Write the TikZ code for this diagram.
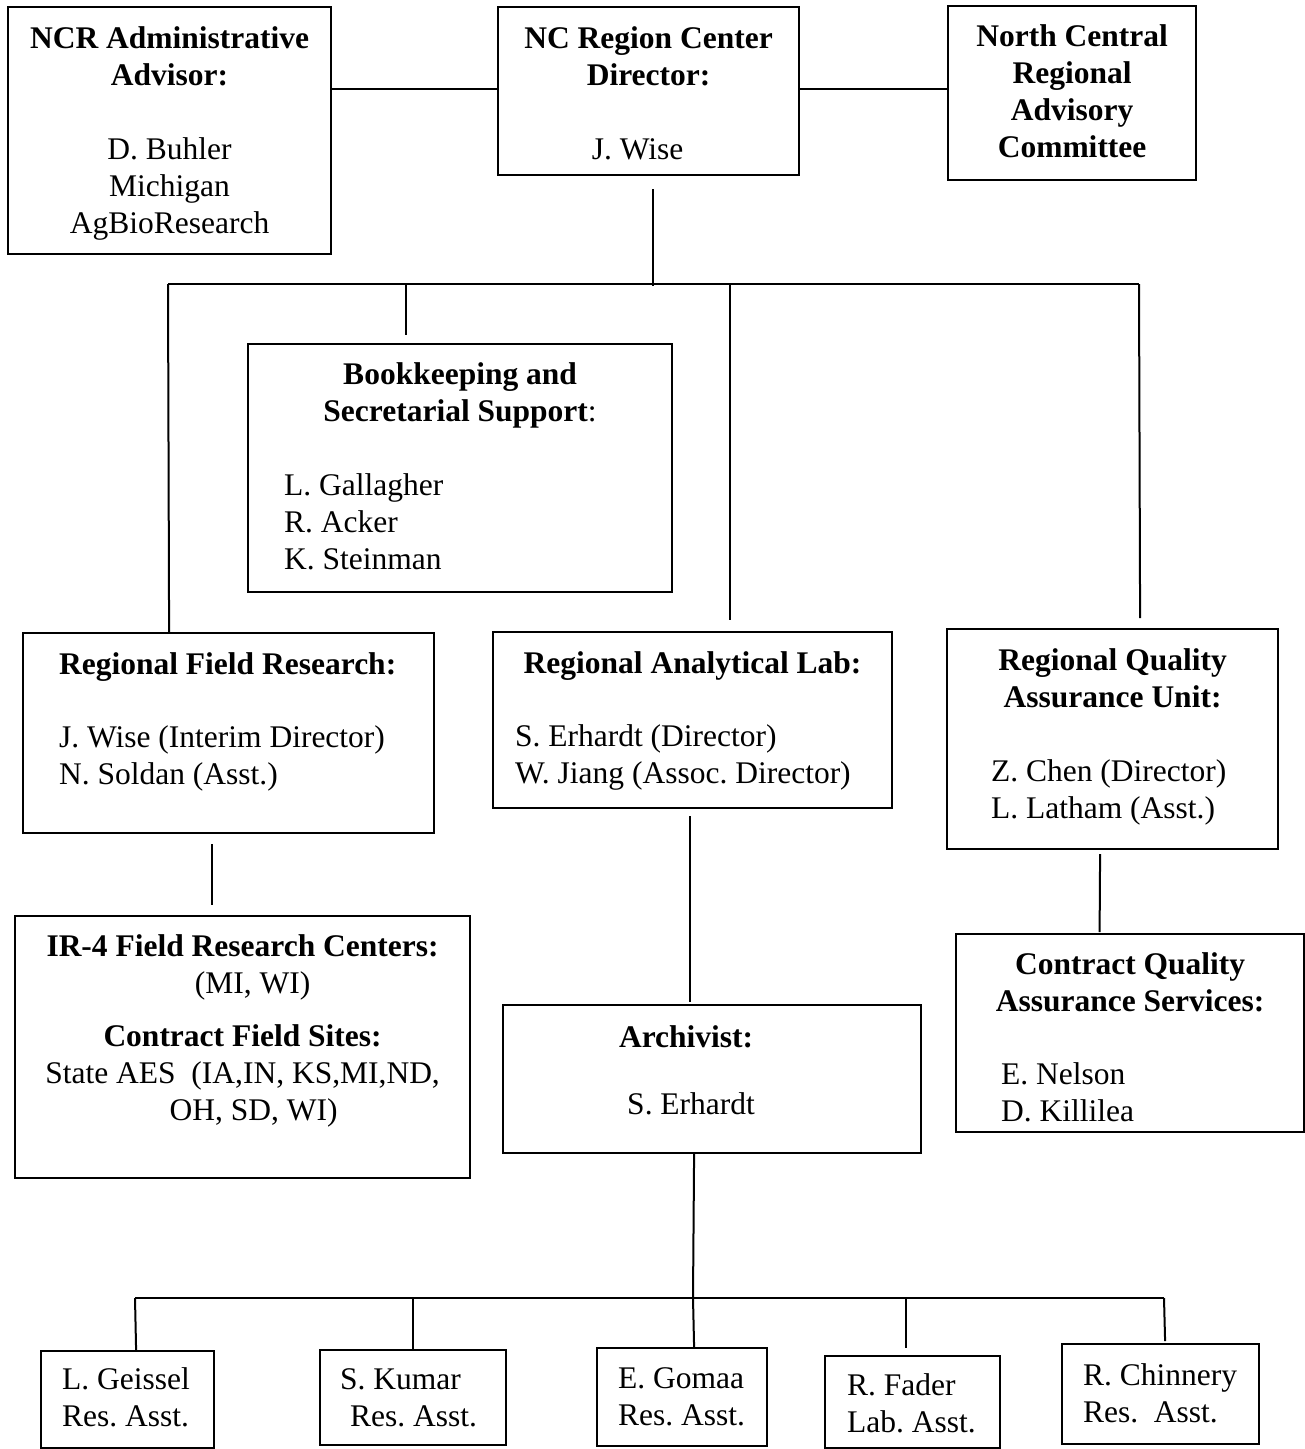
\documentclass[tikz,border=0pt]{standalone}
\usepackage{fontspec}
\setmainfont{Liberation Serif}
\usetikzlibrary{calc}
\frenchspacing
\newcommand\bxc[4]{\parbox[c][#2][t]{#1}{\fontsize{31.5}{37}\selectfont\frenchspacing\vspace*{#3}\centering\strut#4\par}}
\newcommand\bxl[4]{\parbox[c][#2][t]{#1}{\fontsize{31.5}{37}\selectfont\frenchspacing\vspace*{#3}\raggedright\strut#4\par}}
\newcommand\ctrline[1]{\makebox[\linewidth][c]{#1}}
\tikzset{
  box/.style={draw, line width=2.2pt, inner sep=0pt, anchor=north west},
  conn/.style={line width=2pt}
}
\begin{document}
\begin{tikzpicture}[x=1pt,y=-1pt]
\useasboundingbox (0,0) rectangle (1305,1449);
% top row
\node[box] (a) at (7,6) {\bxc{323pt}{247pt}{15.1pt}{\textbf{NCR Administrative}\\ \textbf{Advisor:}\\[37pt] D. Buhler\\ Michigan\\ AgBioResearch}};
\node[box] (b) at (497,6) {\bxc{301pt}{168pt}{15.1pt}{\textbf{NC Region Center}\\ \textbf{Director:}\\[37pt] \hspace*{-22pt}J. Wise}};
\node[box] (c) at (947,5) {\bxc{248pt}{174pt}{14.1pt}{\textbf{North Central}\\ \textbf{Regional}\\ \textbf{Advisory}\\ \textbf{Committee}}};
% second level
\node[box] (d) at (247,343) {\bxl{424pt}{248pt}{14.1pt}{\ctrline{\textbf{Bookkeeping and}}\\ \ctrline{\textbf{Secretarial Support}:}\\[37pt] \hspace*{36pt}L. Gallagher\\ \hspace*{36pt}R. Acker\\ \hspace*{36pt}K. Steinman}};
\node[box] (e) at (22,632) {\bxl{411pt}{200pt}{15.1pt}{\hspace*{36pt}\textbf{Regional Field Research:}\\[36pt] \hspace*{36pt}J. Wise (Interim Director)\\ \hspace*{36pt}N. Soldan (Asst.)}};
\node[box] (f) at (492,631) {\bxl{399pt}{176pt}{15.1pt}{\ctrline{\textbf{Regional Analytical Lab:}}\\[36pt] \hspace*{22pt}S. Erhardt (Director)\\ \hspace*{22pt}W. Jiang (Assoc. Director)}};
\node[box] (g) at (946,628) {\bxl{331pt}{220pt}{15.1pt}{\ctrline{\textbf{Regional Quality}}\\ \ctrline{\textbf{Assurance Unit:}}\\[37pt] \hspace*{44pt}Z. Chen (Director)\\ \hspace*{44pt}L. Latham (Asst.)}};
% third level
\node[box] (h) at (14,915) {\bxc{455pt}{262pt}{14.1pt}{\textbf{IR-4 Field Research Centers:}\\ \hspace*{20pt}(MI, WI)\\[16pt] \textbf{Contract Field Sites:}\\ State AES\ \ (IA,IN, KS,MI,ND,\\ \hspace*{22pt}OH, SD, WI)}};
\node[box] (i) at (502,1004) {\bxc{418pt}{148pt}{16.1pt}{\hspace*{-52pt}\textbf{Archivist:}\\[30pt] \hspace*{-42pt}S. Erhardt}};
\node[box] (j) at (955,933) {\bxl{348pt}{198pt}{14.1pt}{\ctrline{\textbf{Contract Quality}}\\ \ctrline{\textbf{Assurance Services:}}\\[36pt] \hspace*{45pt}E. Nelson\\ \hspace*{45pt}D. Killilea}};
% bottom row
\node[box] (k) at (40,1350) {\bxl{173pt}{97pt}{12.1pt}{\hspace*{21pt}L. Geissel\\ \hspace*{21pt}Res. Asst.}};
\node[box] (l) at (319,1349) {\bxl{186pt}{95pt}{13.1pt}{\hspace*{20pt}S. Kumar\\ \hspace*{30pt}Res. Asst.}};
\node[box] (m) at (596,1347) {\bxl{170pt}{98pt}{14.1pt}{\hspace*{21pt}E. Gomaa\\ \hspace*{21pt}Res. Asst.}};
\node[box] (n) at (824,1355) {\bxl{175pt}{92pt}{13.1pt}{\hspace*{22pt}R. Fader\\ \hspace*{22pt}Lab. Asst.}};
\node[box] (o) at (1061,1343) {\bxl{197pt}{100pt}{15.1pt}{\hspace*{21pt}R. Chinnery\\ \hspace*{21pt}Res.\ \ Asst.}};
% bus coordinates
\coordinate (bus1L) at (168,284);
\coordinate (bus1R) at (1139,284);
\coordinate (bus2L) at (135,1298);
\coordinate (bus2R) at (1164,1298);
\coordinate (bus2M) at (693,1298);
% connectors top row
\draw[conn] ($(b.west)+(0,-2)$) -- ($(b.west -| a.east)+(0,-2)$);
\draw[conn] ($(b.east)+(0,-2)$) -- ($(b.east -| c.west)+(0,-2)$);
\draw[conn] ($(b.south)+(4.5,13)$) -- ($(b.south)+(4.5,110)$);
\draw[conn] (bus1L) -- (bus1R);
% drops to second level
\draw[conn] (bus1L) -- ($(e.north)+(-59.5,0)$);
\draw[conn] ($(d.north |- bus1L)+(-54,0)$) -- ($(d.north)+(-54,-8)$);
\draw[conn] ($(f.north |- bus1L)+(37.5,0)$) -- ($(f.north)+(37.5,-11)$);
\draw[conn] (bus1R) -- ($(g.north)+(27.5,-10)$);
% second to third level
\draw[conn] ($(e.south)+(-16.5,10)$) -- ($(h.north)+(-30.5,-10)$);
\draw[conn] ($(f.south)+(-2.5,7)$) -- ($(i.north)+(-22,-2)$);
\draw[conn] ($(g.south)+(-12.5,4)$) -- ($(j.north)+(-30.5,-1)$);
% archivist to bottom row
\draw[conn] ($(i.south)+(-18,0)$) -- (bus2M);
\draw[conn] (bus2L) -- (bus2R);
\draw[conn] (bus2L) -- ($(k.north)+(8.5,0)$);
\draw[conn] (l.north |- bus2L) -- (l.north);
\draw[conn] (bus2M) -- ($(m.north)+(12,0)$);
\draw[conn] ($(n.north |- bus2L)+(-6.5,0)$) -- ($(n.north)+(-6.5,-7)$);
\draw[conn] (bus2R) -- ($(o.north)+(4.5,-2)$);
\end{tikzpicture}
\end{document}
